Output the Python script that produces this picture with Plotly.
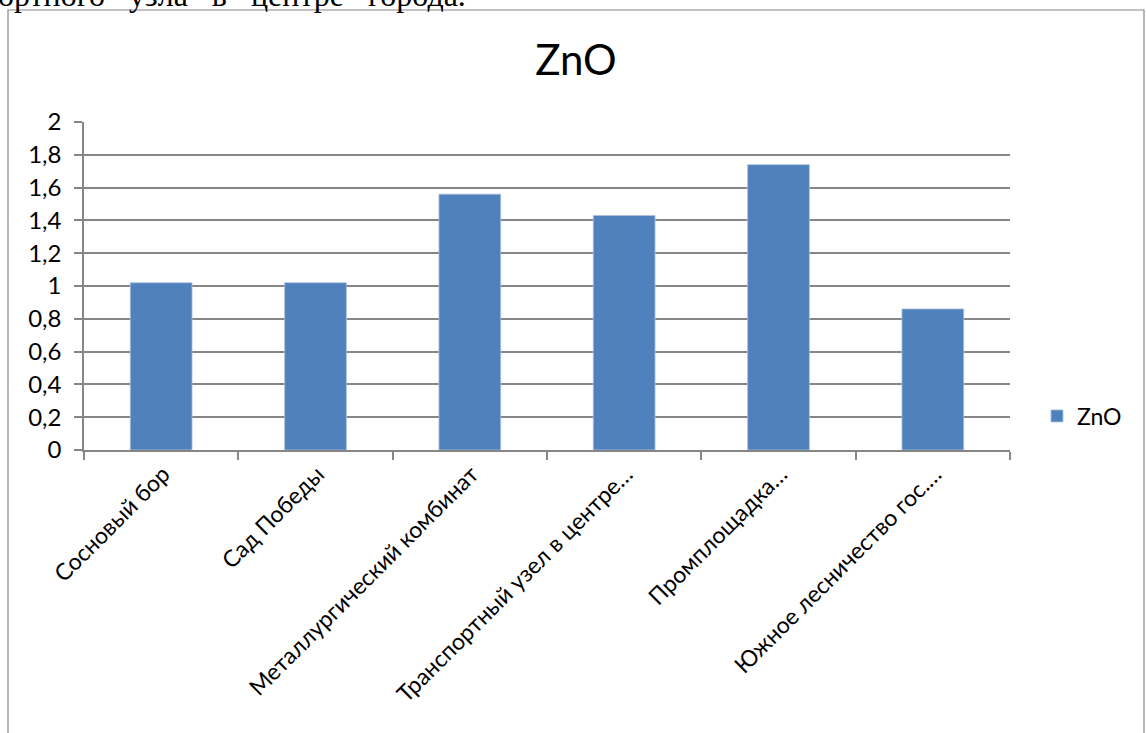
import plotly.graph_objects as go

# ZnO content by sampling site
categories = [
    "Сосновый бор",
    "Сад Победы",
    "Металлургический комбинат",
    "Транспортный узел в центре…",
    "Промплощадка…",
    "Южное лесничество гос.…",
]
zno_values = [1.02, 1.02, 1.56, 1.43, 1.74, 0.86]
y_ticks = [0, 0.2, 0.4, 0.6, 0.8, 1, 1.2, 1.4, 1.6, 1.8, 2]
y_tick_labels = ["0", "0,2", "0,4", "0,6", "0,8", "1", "1,2", "1,4", "1,6", "1,8", "2"]

W, H = 1146, 733
L, R, T, B = 84, 1010, 122, 450  # plot area in pixels
pw, ph = R - L, B - T

def px(x):
    return (x - L) / pw

def py(y):
    return (B - y) / ph

AXIS = "#868686"
FONT = "Lato, 'Open Sans', sans-serif"

fig = go.Figure(
    go.Bar(
        x=categories,
        y=zno_values,
        name="ZnO",
        marker=dict(color="#4F81BD", line=dict(width=0.8, color="#A9C0DE")),
    )
)

fig.update_layout(
    width=W,
    height=H,
    margin=dict(l=L, r=W - R, t=T, b=H - B, pad=0),
    paper_bgcolor="white",
    plot_bgcolor="white",
    bargap=0.6,
    font=dict(family=FONT, color="black", size=22),
    title=dict(
        text="ZnO",
        font=dict(family=FONT, size=42, color="black"),
        xref="container",
        x=576 / W,
        xanchor="center",
        yref="container",
        y=1 - 60 / H,
        yanchor="middle",
    ),
    showlegend=True,
    legend=dict(
        x=px(1037),
        xanchor="left",
        y=py(416),
        yanchor="middle",
        font=dict(family=FONT, size=23, color="black"),
        bgcolor="rgba(0,0,0,0)",
    ),
    xaxis=dict(
        type="category",
        showgrid=False,
        showline=True,
        linecolor=AXIS,
        linewidth=1.5,
        ticks="outside",
        tickson="boundaries",
        ticklen=8,
        tickcolor=AXIS,
        tickwidth=1.5,
        tickangle=-45,
        ticklabelshift=2,
        tickfont=dict(family=FONT, size=23, color="black"),
    ),
    yaxis=dict(
        range=[0, 2],
        tickvals=y_ticks,
        ticktext=y_tick_labels,
        showgrid=True,
        gridcolor=AXIS,
        gridwidth=1.5,
        showline=True,
        linecolor=AXIS,
        linewidth=1.5,
        ticks="outside",
        ticklen=8,
        tickcolor=AXIS,
        tickwidth=1.5,
        ticklabelstandoff=8,
        zeroline=False,
        tickfont=dict(family=FONT, size=24, color="black"),
    ),
)

# Chart frame
fig.add_shape(
    type="rect",
    xref="paper",
    yref="paper",
    x0=px(8),
    x1=px(1144),
    y0=py(760),
    y1=py(10),
    line=dict(color=AXIS, width=1.2),
    fillcolor="rgba(0,0,0,0)",
    layer="below",
)

# Line of document text above the chart (justified paragraph, wide word gaps)
fig.add_annotation(
    xref="paper",
    yref="paper",
    x=px(-4),
    y=py(15),
    xanchor="left",
    yanchor="bottom",
    text="ортного&nbsp;&nbsp;&nbsp;узла&nbsp;&nbsp;&nbsp;в&nbsp;&nbsp;&nbsp;центре&nbsp;&nbsp;&nbsp;города.",
    showarrow=False,
    font=dict(family="Liberation Serif, 'Times New Roman', serif", size=32, color="black"),
)

fig.write_html("out.html")
